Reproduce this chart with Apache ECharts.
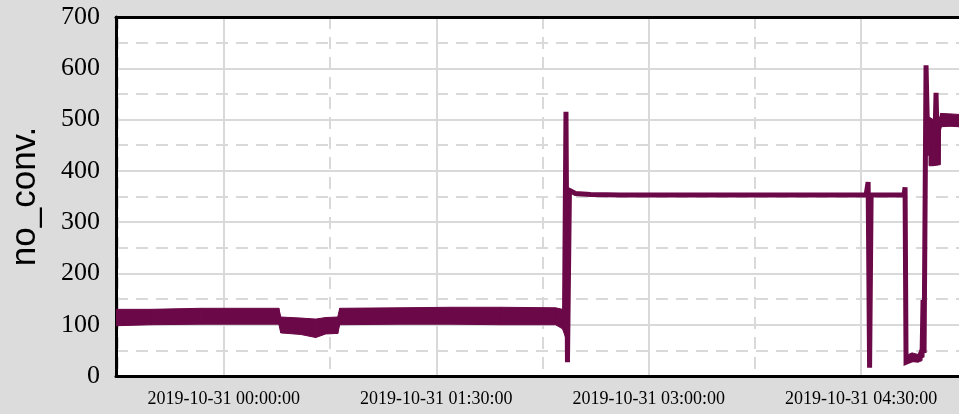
<!DOCTYPE html>
<html>
<head>
<meta charset="utf-8">
<script src="https://cdn.jsdelivr.net/npm/echarts@6/dist/echarts.min.js"></script>
<style>
html,body{margin:0;padding:0;background:#dcdcdc;}
#main{width:959px;height:414px;}
</style>
</head>
<body>
<div id="main"></div>
<script>
// 噪声带：时间 / 下沿 / 上沿 (null = 断开)
var bandTime=['2019-10-30 23:14:18','2019-10-30 23:29:07','2019-10-30 23:50:16','2019-10-31 00:23:17','2019-10-31 00:24:07',
	'2019-10-31 00:32:35','2019-10-31 00:38:56','2019-10-31 00:43:10','2019-10-31 00:48:15','2019-10-31 00:49:05',
	'2019-10-31 01:14:55','2019-10-31 01:36:04','2019-10-31 01:57:13','2019-10-31 02:20:30','2019-10-31 02:23:28','2019-10-31 02:24:44',
	null,
	'2019-10-31 04:49:02','2019-10-31 04:51:35','2019-10-31 04:54:07','2019-10-31 04:55:49',
	null,
	'2019-10-31 04:58:46','2019-10-31 05:00:30','2019-10-31 05:03:26','2019-10-31 05:03:40','2019-10-31 05:08:00','2019-10-31 05:11:28'];
var bandLow=[98,100,101,101,84, 81,75,82,83,100, 101,101,100,100,92,76, null, 27,28,27,30, null, 410,410,412,486,487,486];
var bandHigh=[130,130,132,132,115, 113,111,114,115,132, 133,134,134,133,130,128, null, 40,45,42,60, null, 505,500,505,512,511,510];

// 主线 (跳变部分)
var lineTime=['2019-10-31 02:24:19','2019-10-31 02:24:57','2019-10-31 02:25:35','2019-10-31 02:26:25',
	'2019-10-31 02:28:58','2019-10-31 02:35:19','2019-10-31 02:48:01','2019-10-31 04:32:07','2019-10-31 04:32:58',
	'2019-10-31 04:33:35','2019-10-31 04:34:14','2019-10-31 04:48:11','2019-10-31 04:48:37','2019-10-31 04:49:02',
	'2019-10-31 04:55:49','2019-10-31 04:56:14','2019-10-31 04:56:40','2019-10-31 04:57:30','2019-10-31 04:58:21',
	'2019-10-31 04:59:37','2019-10-31 05:01:19','2019-10-31 05:01:44','2019-10-31 05:02:10','2019-10-31 05:03:51','2019-10-31 05:11:28'];
var lineValue=[110,515,27,362, 356,354,353,353,378, 16,353,353,368,27, 40,148,45,606,430, 480,470,552,470,498,498];

var majorTicks=['2019-10-31 00:00:00','2019-10-31 01:30:00','2019-10-31 03:00:00','2019-10-31 04:30:00'];
var minorTicks=['2019-10-30 23:15:00','2019-10-31 00:45:00','2019-10-31 02:15:00','2019-10-31 03:45:00'];
var xStart='2019-10-30 23:14:18', xEnd='2019-10-31 05:11:28';

function ms(s){
	return new Date(s.replace(' ','T')).getTime();
}
var bandData=[],lineData=[];
var seg=0;
for(var i=0;i<bandTime.length;i++){
	if(bandTime[i]==null){
		seg++;
		continue;
	}
	bandData.push([ms(bandTime[i]),bandLow[i],bandHigh[i],seg]);
}
for(var j=0;j<lineTime.length;j++){
	lineData.push([ms(lineTime[j]),lineValue[j]]);
}
var color='#6b0848';
var gridColor='#d9d9d9';

// 相邻两点之间画一块四边形
function renderBand(params,api){
	var cur=bandData[params.dataIndex];
	var nxt=bandData[params.dataIndex+1];
	if(!nxt || nxt[3]!==cur[3]){
		return;
	}
	var pts=[
		api.coord([cur[0],cur[1]]),
		api.coord([nxt[0],nxt[1]]),
		api.coord([nxt[0],nxt[2]]),
		api.coord([cur[0],cur[2]])
	];
	return {
		type:'polygon',
		shape:{points:pts},
		style:{fill:color,stroke:color,lineWidth:1}
	};
}

var myChart=echarts.init(document.getElementById('main'));
var option={
	backgroundColor:'#dcdcdc',
	animation:false,
	grid:{
		left:115,top:17,right:0,bottom:38,
		show:true,backgroundColor:'#fff',borderWidth:0
	},
	xAxis:[{
		type:'value',
		min:ms(xStart),max:ms(xEnd),
		axisLine:{show:true,lineStyle:{color:'#000',width:3}},
		axisTick:{show:false,customValues:majorTicks.map(ms)},
		axisLabel:{
			customValues:majorTicks.map(ms),
			margin:14,
			color:'#000',
			fontFamily:'Liberation Serif',
			fontSize:18,
			formatter:function(v){
				return echarts.time.format(v,'{yyyy}-{MM}-{dd} {HH}:{mm}:{ss}',false);
			}
		},
		splitLine:{show:true,lineStyle:{color:gridColor,width:2}}
	},{
		type:'value',
		position:'top',
		min:ms(xStart),max:ms(xEnd),
		axisLine:{show:true,lineStyle:{color:'#000',width:3}},
		axisTick:{show:false,customValues:minorTicks.map(ms)},
		axisLabel:{show:false},
		splitLine:{show:true,lineStyle:{color:gridColor,width:2,type:[12,8]}}
	}],
	yAxis:{
		type:'value',
		min:0,max:700,interval:100,
		name:'no_conv.',
		nameLocation:'middle',
		nameGap:73,
		nameTextStyle:{fontFamily:'Liberation Sans',fontSize:35,color:'#000'},
		axisLine:{show:true,lineStyle:{color:'#000',width:3}},
		axisTick:{show:false},
		axisLabel:{margin:16,color:'#000',fontFamily:'Liberation Serif',fontSize:26},
		splitLine:{show:true,lineStyle:{color:gridColor,width:2}},
		minorTick:{show:false,splitNumber:2},
		minorSplitLine:{show:true,lineStyle:{color:gridColor,width:2,type:[12,8]}}
	},
	series:[{
		name:'band',type:'custom',data:bandData,
		renderItem:renderBand,
		encode:{x:0,y:[1,2]},
		clip:true,silent:true
	},{
		name:'no_conv.',type:'line',data:lineData,
		symbol:'none',lineStyle:{color:color,width:5,join:'miter'}
	}]
};
myChart.setOption(option);
</script>
</body>
</html>
